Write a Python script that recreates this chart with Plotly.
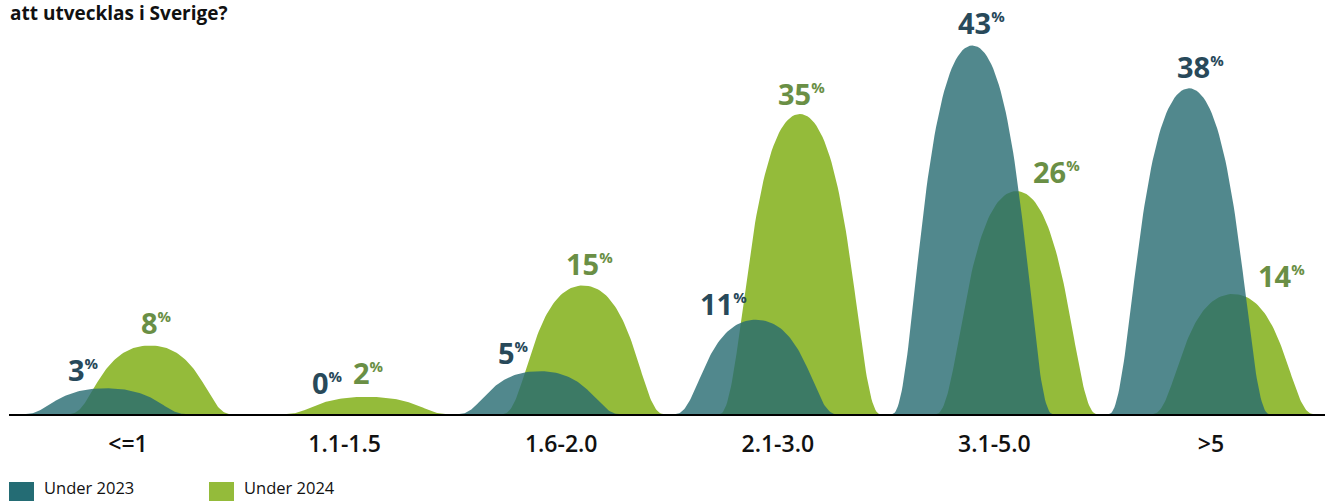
import numpy as np
import plotly.graph_objects as go

# ---------------- data ----------------
categories = ["<=1", "1.1-1.5", "1.6-2.0", "2.1-3.0", "3.1-5.0", ">5"]
values_2023 = [3, 0, 5, 11, 43, 38]
values_2024 = [8, 2, 15, 35, 26, 14]
series_names = ["Under 2023", "Under 2024"]
title_text = "att utvecklas i Sverige?"

# ---------------- layout / style ----------------
W, H = 1325, 501
ML, MR, MT, MB = 9, 0, 0, 87
PX_PER_CAT = 216.6
FIRST_CAT_PX = 128
PX_PER_PCT = 8.57
plot_w = W - ML - MR
plot_h = H - MT - MB
x0 = -(FIRST_CAT_PX - ML) / PX_PER_CAT
x1 = x0 + plot_w / PX_PER_CAT
ymax = plot_h / PX_PER_PCT
OFFSET = 22 / PX_PER_CAT      # series offset from category centre
HALF_W = 80 / PX_PER_CAT      # half width of each bump

TEAL_FILL = "rgba(38,106,113,0.8)"
GREEN_FILL = "#94bb3a"
TEAL_SOLID = "#246c74"
TEAL_TXT = "#28495a"
GREEN_TXT = "#6a8f45"
FONT = "Open Sans"

# label placement (pixels relative to bump centre / peak)
label_dx_2023 = [-38, -11, -41, -56, -14, -12]
label_gap_2023 = [5, 18.5, 4.7, 3, 9, 8]
label_dx_2024 = [-9, -14, -17, -22, 17, 25]
label_gap_2024 = [9, 11, 8, 7, 6, 5.5]


def bump_path(centers, vals, hw, n=60):
    s = np.linspace(0, 1, n)
    a, b = 0.28, 0.35
    X = 3 * (1 - s) ** 2 * s * a + 3 * (1 - s) * s ** 2 * b + s ** 3
    Y = 3 * s ** 2 - 2 * s ** 3
    xs, ys = [], []
    for c, v in zip(centers, vals):
        lx = c - hw * (1 - X)
        rx = c + hw * (1 - X[::-1])
        xs += list(lx) + list(rx) + [None]
        ys += list(v * Y) + list(v * Y[::-1]) + [None]
    return xs, ys


idx = np.arange(len(categories))
c23 = idx - OFFSET
c24 = idx + OFFSET

fig = go.Figure()
gx, gy = bump_path(c24, values_2024, HALF_W)
fig.add_trace(go.Scatter(x=gx, y=gy, fill="toself", fillcolor=GREEN_FILL,
                         line=dict(width=0), mode="lines", name=series_names[1],
                         hoverinfo="skip", showlegend=False))
tx, ty = bump_path(c23, values_2023, HALF_W)
fig.add_trace(go.Scatter(x=tx, y=ty, fill="toself", fillcolor=TEAL_FILL,
                         line=dict(width=0), mode="lines", name=series_names[0],
                         hoverinfo="skip", showlegend=False))

annotations = []


def add_labels(centers, vals, dxs, gaps, color):
    for c, v, dx, g in zip(centers, vals, dxs, gaps):
        annotations.append(dict(
            x=c, y=v, xref="x", yref="y", xanchor="left", yanchor="bottom",
            xshift=dx - 2, yshift=g - 8, showarrow=False,
            text=f"{v}<sup><span style='font-size:15px'>%</span></sup>",
            font=dict(family=FONT, size=29, color=color, weight="bold")))


add_labels(c23, values_2023, label_dx_2023, label_gap_2023, TEAL_TXT)
add_labels(c24, values_2024, label_dx_2024, label_gap_2024, GREEN_TXT)


def px_to_paper_x(px):
    return (px - ML) / plot_w


def py_to_paper_y(py):
    return (MT + plot_h - py) / plot_h


# title
annotations.append(dict(x=px_to_paper_x(8), y=py_to_paper_y(-2), xref="paper", yref="paper",
                        xanchor="left", yanchor="top", showarrow=False, text=title_text,
                        font=dict(family=FONT, size=19, color="#111111", weight="bold")))

# legend (manual)
shapes = []
legend_items = [(9, TEAL_SOLID, series_names[0]), (209, GREEN_FILL, series_names[1])]
for lx, col, name in legend_items:
    shapes.append(dict(type="rect", xref="paper", yref="paper",
                       x0=px_to_paper_x(lx), x1=px_to_paper_x(lx + 25),
                       y0=py_to_paper_y(482), y1=py_to_paper_y(505),
                       fillcolor=col, line=dict(width=0), layer="above"))
    annotations.append(dict(x=px_to_paper_x(lx + 33), y=py_to_paper_y(501), xref="paper",
                            yref="paper", xanchor="left", yanchor="bottom", showarrow=False,
                            text=name, font=dict(family=FONT, size=16.5, color="#111111",
                                                 weight=500)))

fig.update_layout(
    width=W, height=H,
    margin=dict(l=ML, r=MR, t=MT, b=MB, pad=0),
    paper_bgcolor="white", plot_bgcolor="white",
    showlegend=False,
    annotations=annotations,
    shapes=shapes,
    xaxis=dict(range=[x0, x1], tickmode="array", tickvals=list(idx), ticktext=categories,
               showgrid=False, zeroline=False, showline=True, linecolor="black", linewidth=2,
               ticks="", ticklabelstandoff=8,
               tickfont=dict(family=FONT, size=23, color="#111111", weight=600)),
    yaxis=dict(range=[0, ymax], showgrid=False, zeroline=False, showticklabels=False,
               showline=False, ticks=""),
)

fig.write_html("out.html")
